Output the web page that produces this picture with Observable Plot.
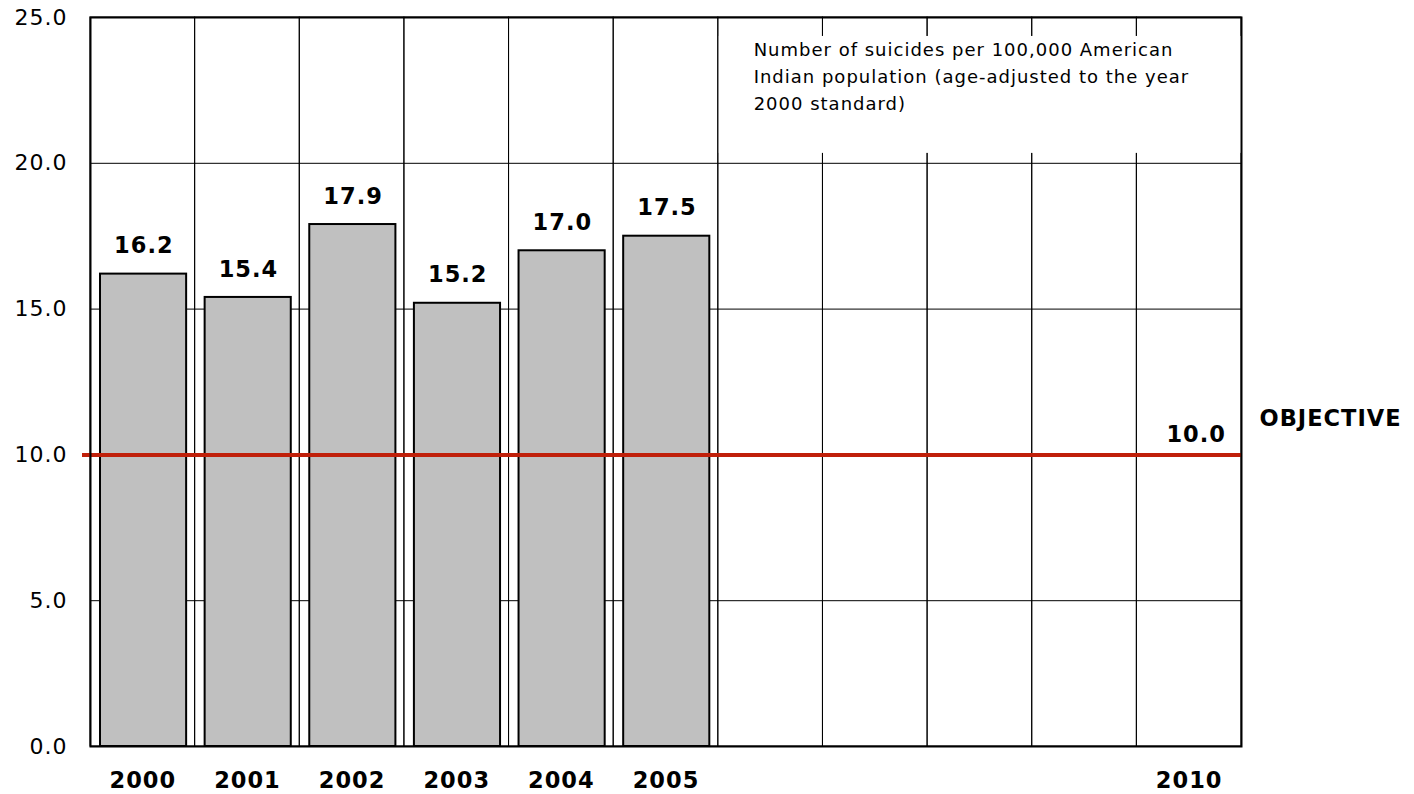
<!DOCTYPE html>
<html>
<head>
<meta charset="utf-8">
<script src="https://cdn.jsdelivr.net/npm/d3@7"></script>
<script src="https://cdn.jsdelivr.net/npm/@observablehq/plot@0.6"></script>
<style>
  html, body { margin: 0; padding: 0; background: #fff; }
  #chart { width: 1414px; height: 794px; }
  #chart svg text { letter-spacing: 1px; }
</style>
</head>
<body>
<div id="chart"></div>
<script>
const years = ["2000","2001","2002","2003","2004","2005","2006","2007","2008","2009","2010"];
const dataYears = ["2000","2001","2002","2003","2004","2005"];
const rates = [16.2, 15.4, 17.9, 15.2, 17.0, 17.5];
const labeledYears = ["2000","2001","2002","2003","2004","2005","2010"];
const objective = 10.0;
const objectiveYear = "2010";
const yTicks = [0, 5, 10, 15, 20, 25];
const noteYears = ["2006","2007","2008","2009","2010"];
const noteRange = [20.34, 24.35];
const noteText = "Number of suicides per 100,000 American\nIndian population (age-adjusted to the year\n2000 standard)";

const bars = dataYears.map((y, i) => ({year: y, rate: rates[i]}));
const font = "DejaVu Sans, Verdana, sans-serif";

const chart = Plot.plot({
  width: 1414,
  height: 794,
  marginLeft: 90,
  marginRight: 173,
  marginTop: 17,
  marginBottom: 48,
  style: {fontFamily: font, background: "#fff", color: "#000"},
  x: {type: "band", domain: years, padding: 0, round: false, label: null},
  y: {domain: [0, 25], label: null},
  marks: [
    // vertical grid (band outlines)
    Plot.barY(years, {x: d => d, y1: 0, y2: 25, fill: "none", stroke: "#000", strokeWidth: 1}),
    // horizontal grid
    Plot.ruleY(yTicks.filter(d => d > 0 && d < 25), {stroke: "#000", strokeWidth: 1}),
    // white note box
    Plot.barY(noteYears, {x: d => d, y1: noteRange[0], y2: noteRange[1], fill: "#fff", insetLeft: 1, insetRight: -1.5}),
    Plot.text([noteText], {x: () => "2006", y: noteRange[1], text: d => d, textAnchor: "start", lineAnchor: "top",
      dx: -17, dy: 1, fontSize: 18, lineHeight: 1.48, fill: "#000"}),
    // bars
    Plot.barY(bars, {x: "year", y: "rate", fill: "#c0c0c0", stroke: "#000", strokeWidth: 2, insetLeft: 10, insetRight: 8.5}),
    Plot.text(bars, {x: "year", y: "rate", text: d => d.rate.toFixed(1), dy: -28, dx: 1, fontSize: 22.5, fontWeight: "bold", fill: "#000"}),
    // objective line
    Plot.ruleY([objective], {stroke: "#c0200a", strokeWidth: 4, insetLeft: -8}),
    Plot.text([objective], {x: () => objectiveYear, y: d => d, text: d => d.toFixed(1), dy: -20, dx: 7, fontSize: 22.5, fontWeight: "bold", fill: "#000"}),
    Plot.text(["OBJECTIVE"], {frameAnchor: "right", y: () => objective, text: d => d, textAnchor: "start", dx: 18, dy: -36, fontSize: 22.5, fontWeight: "bold", fill: "#000"}),
    // frame
    Plot.frame({stroke: "#000", strokeWidth: 2}),
    // axes
    Plot.axisY(yTicks, {tickSize: 0, tickPadding: 23, tickFormat: d => d.toFixed(1), fontSize: 22, fill: "#000"}),
    Plot.axisX(labeledYears, {tickSize: 0, tickPadding: 26, fontSize: 22.5, fontWeight: "bold", fill: "#000"})
  ]
});
document.getElementById("chart").appendChild(chart);
</script>
</body>
</html>
